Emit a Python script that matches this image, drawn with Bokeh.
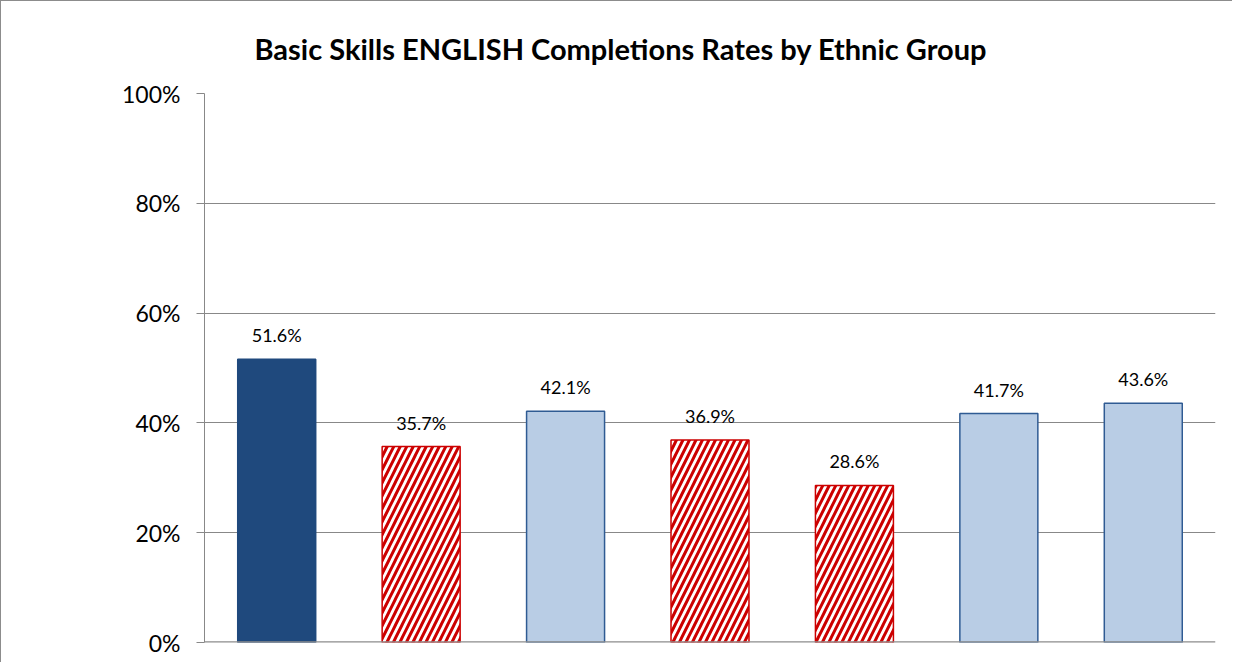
from bokeh.plotting import figure
from bokeh.models import ColumnDataSource, FactorRange, Span, NumeralTickFormatter, FixedTicker
from bokeh.core.properties import value
from bokeh.embed import file_html
from bokeh.resources import INLINE

title_text = "Basic Skills ENGLISH  Completions Rates by  Ethnic Group"
categories = ["Group 1", "Group 2", "Group 3", "Group 4", "Group 5", "Group 6", "Group 7"]
rates = [0.516, 0.357, 0.421, 0.369, 0.286, 0.417, 0.436]
labels = ["51.6%", "35.7%", "42.1%", "36.9%", "28.6%", "41.7%", "43.6%"]
kinds = ["dark", "hatch", "light", "hatch", "hatch", "light", "light"]

fill_map = {"dark": "#1F497D", "hatch": "#FFFFFF", "light": "#B9CDE5"}
line_map = {"dark": "#1F497D", "hatch": "#CC0000", "light": "#2F5B93"}
hatch_map = {"dark": " ", "hatch": "/", "light": " "}

src = ColumnDataSource(dict(
    x=categories, top=rates, label=labels,
    fill=[fill_map[k] for k in kinds],
    line=[line_map[k] for k in kinds],
    hatch=[hatch_map[k] for k in kinds],
))

p = figure(width=1232, height=662, x_range=FactorRange(*categories), y_range=(0, 1),
           output_backend="svg", toolbar_location=None, title=title_text)
p.min_border_left = 203
p.min_border_right = 18
p.min_border_top = 91
p.min_border_bottom = 21
p.outline_line_color = None
p.styles = {"border-left": "1px solid #8c8c8c", "border-top": "1px solid #8c8c8c"}

p.title.text_font = "Lato"
p.title.text_font_size = "29px"
p.title.text_font_style = "bold"
p.title.text_color = "#000000"
p.title.align = "left"
p.title.offset = 50
p.title.text_line_height = 1.0
p.title.standoff = 55

p.vbar(x="x", top="top", width=0.54, source=src, fill_color="fill", line_color="line",
       line_width=1.5, hatch_pattern="hatch", hatch_color="#CC0000", hatch_weight=3,
       hatch_scale=13)

p.text(x="x", y="top", text="label", source=src, text_align="center", text_baseline="middle",
       y_offset=-24, text_font=value("Lato"), text_font_size="18px", text_color="#000000")

p.xaxis.visible = False
p.xgrid.visible = False
p.ygrid.grid_line_color = "#888888"
p.ygrid.grid_line_width = 1
p.yaxis.ticker = FixedTicker(ticks=[0, 0.2, 0.4, 0.6, 0.8, 1.0])
p.yaxis.formatter = NumeralTickFormatter(format="0%")
p.yaxis.axis_line_color = "#888888"
p.yaxis.major_tick_line_color = "#888888"
p.yaxis.major_tick_out = 8
p.yaxis.major_tick_in = 0
p.yaxis.minor_tick_line_color = None
p.yaxis.major_label_text_font = "Lato"
p.yaxis.major_label_text_font_size = "23px"
p.yaxis.major_label_text_color = "#000000"
p.yaxis.major_label_standoff = 16

p.add_layout(Span(location=0, dimension="width", line_color="#8c8c8c", line_width=2.5))

open("out.html", "w").write(file_html(p, INLINE))
